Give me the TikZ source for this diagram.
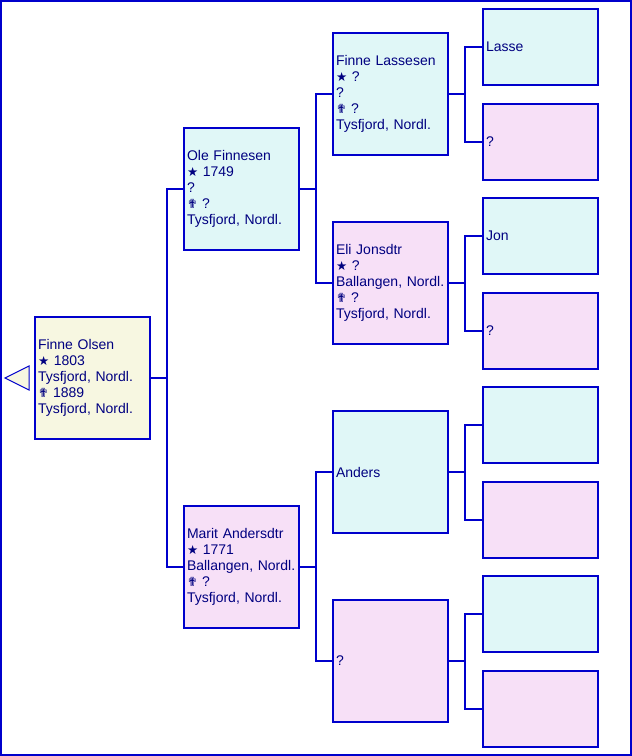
\documentclass[tikz,border=0pt]{standalone}
\usepackage{fontspec}
\setmainfont{Liberation Sans}
\newfontfamily\symfont{DejaVu Sans}
\usetikzlibrary{positioning, calc}

\definecolor{lineblue}{RGB}{0,0,204}
\definecolor{textnavy}{RGB}{0,0,128}
\definecolor{rootfill}{RGB}{247,247,225}
\definecolor{malefill}{RGB}{224,247,247}
\definecolor{femalefill}{RGB}{247,224,247}

\newcommand{\bsym}{{\symfont\fontsize{12.5}{16}\selectfont ★}}
\newcommand{\dsym}{{\symfont\fontsize{12.5}{16}\selectfont ✟}}

\begin{document}
\begin{tikzpicture}[
    x=1pt, y=-1pt,
    person/.style={rectangle, draw=lineblue, line width=2pt, text=textnavy, align=left,
        font=\fontsize{14}{16}\selectfont, inner xsep=3pt, text width=109pt, minimum height=122pt},
    small/.style={person, minimum height=76pt},
    root/.style={person, fill=rootfill},
    male/.style={fill=malefill},
    female/.style={fill=femalefill},
    link/.style={draw=lineblue, line width=2pt}
]

% Frame
\useasboundingbox (0,0) rectangle (632,756);
\draw[lineblue, line width=2pt] (1,1) rectangle (631,755);

% Back arrow
\draw[lineblue, fill=rootfill, line width=1pt] (29,366) -- (5,378) -- (29,390) -- cycle;

% Generation 0
\node[root] (root) at (92.5,378) {Finne Olsen\\\bsym{} 1803\\Tysfjord, Nordl.\\\dsym{} 1889\\Tysfjord, Nordl.};

% Generation 1
\node[person, male] (f) at (241.5,189) {Ole Finnesen\\\bsym{} 1749\\?\\\dsym{} ?\\Tysfjord, Nordl.};
\node[person, female] (m) at (241.5,567) {Marit Andersdtr\\\bsym{} 1771\\Ballangen, Nordl.\\\dsym{} ?\\Tysfjord, Nordl.};

% Generation 2
\node[person, male] (ff) at (390.5,94) {Finne Lassesen\\\bsym{} ?\\?\\\dsym{} ?\\Tysfjord, Nordl.};
\node[person, female] (fm) at (390.5,283) {Eli Jonsdtr\\\bsym{} ?\\Ballangen, Nordl.\\\dsym{} ?\\Tysfjord, Nordl.};
\node[person, male] (mf) at (390.5,472) {Anders};
\node[person, female] (mm) at (390.5,661) {?};

% Generation 3
\node[small, male] (fff) at (540.5,47) {Lasse};
\node[small, female] (ffm) at (540.5,141.5) {?};
\node[small, male] (fmf) at (540.5,236) {Jon};
\node[small, female] (fmm) at (540.5,330.5) {?};
\node[small, male] (mff) at (540.5,425) {};
\node[small, female] (mfm) at (540.5,519.5) {};
\node[small, male] (mmf) at (540.5,614) {};
\node[small, female] (mmm) at (540.5,708.5) {};

% Connectors
\foreach \p/\a/\b in {root/f/m, f/ff/fm, m/mf/mm, ff/fff/ffm, fm/fmf/fmm, mf/mff/mfm, mm/mmf/mmm} {
    \draw[link] (\p.east) -- ++(16,0) coordinate (j);
    \draw[link] (\a.west) -| (j) |- (\b.west);
}

\end{tikzpicture}
\end{document}
